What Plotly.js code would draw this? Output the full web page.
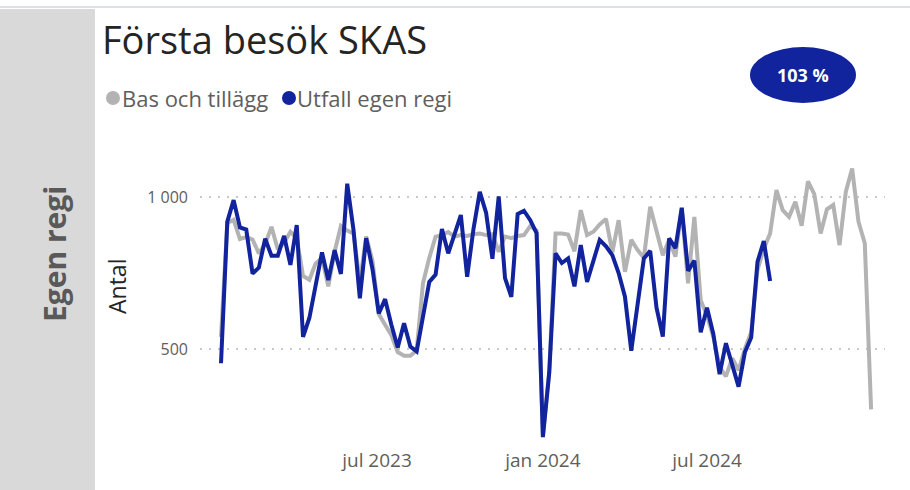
<!DOCTYPE html>
<html>
<head>
<meta charset="utf-8">
<script src="https://cdn.plot.ly/plotly-3.0.1.min.js"></script>
<style>
  html, body { margin: 0; padding: 0; background: #ffffff; }
  #chart { width: 910px; height: 490px; }
</style>
</head>
<body>
<div id="chart"></div>
<script>
// Weekly categories (Mondays), first week 2023-01-09, 104 weeks
const startWeek = '2023-01-09';
const weekCount = 104;

// Series: Bas och tillägg (plan)
const basOchTillagg = [
  540, 915, 925, 862, 868, 860, 815, 845, 902, 828,
  850, 886, 865, 740, 728, 782, 800, 706, 820, 905,
  890, 880, 720, 870, 790, 615, 580, 545, 490, 478,
  478, 495, 716, 800, 870, 875, 885, 870, 875, 872,
  878, 880, 875, 878, 820, 870, 865, 872, 875, 905,
  890, 215, 425, 880, 880, 877, 822, 957, 875, 886,
  910, 928, 818, 924, 754, 859, 826, 800, 968, 891,
  809, 859, 804, 963, 716, 935, 660, 610, 540, 440,
  410, 470, 430, 500, 555, 760, 830, 880, 1023, 957,
  935, 985, 906, 1052, 1010, 880, 960, 974, 842, 1018,
  1094, 919, 848, 301
];

// Series: Utfall egen regi (actual)
const utfallEgenRegi = [
  453, 919, 990, 900, 893, 748, 768, 863, 807, 807,
  872, 777, 908, 540, 602, 715, 818, 727, 825, 747,
  1044, 891, 667, 865, 763, 617, 664, 579, 505, 585,
  508, 492, 606, 721, 745, 895, 815, 875, 941, 738,
  895, 1017, 949, 797, 1002, 733, 672, 944, 955, 924,
  881, 210, 421, 815, 783, 798, 706, 842, 721, 790,
  859, 838, 809, 750, 672, 494, 655, 798, 823, 636,
  541, 864, 832, 965, 757, 791, 555, 636, 550, 417,
  519, 450, 376, 489, 538, 787, 855, 724
];

const seriesNames = ['Bas och tillägg', 'Utfall egen regi'];
const xTickVals = ['2023-07-01', '2024-01-01', '2024-07-01'];
const xTickText = ['jul 2023', 'jan 2024', 'jul 2024'];
const yTickVals = [500, 1000];
const yTickText = ['500', '1 000'];
const titleText = 'Första besök SKAS';
const badgeText = '103 %';
const sideText = 'Egen regi';
const yTitleText = 'Antal';

// build weekly date labels
const weeks = [];
{
  const d0 = new Date(startWeek + 'T00:00:00Z');
  for (let i = 0; i < weekCount; i++) {
    const d = new Date(d0.getTime() + i * 7 * 86400000);
    weeks.push(d.toISOString().slice(0, 10));
  }
}

const W = 910, H = 490;
const M = { l: 200, r: 25, t: 150, b: 45 };
const PW = W - M.l - M.r, PH = H - M.t - M.b;
const px = x => (x - M.l) / PW;
const py = y => (H - M.b - y) / PH;

const FONT = '"Segoe UI", "Open Sans", "Noto Sans", sans-serif';
const BLUE = '#12239E';
const GRAY = '#B3B3B3';

const traces = [
  {
    type: 'scatter', mode: 'lines', name: seriesNames[0],
    x: weeks, y: basOchTillagg,
    line: { color: GRAY, width: 4, shape: 'linear' },
    hoverinfo: 'skip'
  },
  {
    type: 'scatter', mode: 'lines', name: seriesNames[1],
    x: weeks.slice(0, utfallEgenRegi.length), y: utfallEgenRegi,
    line: { color: BLUE, width: 4, shape: 'linear' },
    hoverinfo: 'skip'
  }
];

const layout = {
  width: W, height: H,
  margin: M,
  paper_bgcolor: '#ffffff',
  plot_bgcolor: '#ffffff',
  showlegend: false,
  font: { family: FONT, color: '#605E5C', size: 16 },
  xaxis: {
    type: 'date',
    range: ['2022-12-16 17:00', '2025-01-14 10:00'],
    tickvals: xTickVals, ticktext: xTickText,
    showgrid: false, zeroline: false, showline: false, ticks: '',
    ticklabelstandoff: 2,
    tickfont: { family: FONT, size: 19, color: '#605E5C' },
    fixedrange: true
  },
  yaxis: {
    range: [184, 1155],
    tickvals: yTickVals, ticktext: yTickText,
    showgrid: true, gridcolor: '#C8C8C8', gridwidth: 1.5, griddash: '2px,7px',
    zeroline: false, showline: false, ticks: '',
    ticklabelstandoff: 11,
    tickfont: { family: FONT, size: 16, color: '#605E5C' },
    fixedrange: true
  },
  shapes: [
    { type: 'rect', xref: 'paper', yref: 'paper', x0: px(0), x1: px(95), y0: py(490), y1: py(9),
      fillcolor: '#D9D9D9', line: { width: 0 }, layer: 'below' },
    { type: 'line', xref: 'paper', yref: 'paper', x0: px(0), x1: px(910), y0: py(7), y1: py(7),
      line: { color: '#DDE1E6', width: 2 } },
    { type: 'circle', xref: 'paper', yref: 'paper', x0: px(106), x1: px(120), y0: py(105), y1: py(91),
      fillcolor: GRAY, line: { width: 0 } },
    { type: 'circle', xref: 'paper', yref: 'paper', x0: px(282), x1: px(296), y0: py(105), y1: py(91),
      fillcolor: BLUE, line: { width: 0 } },
    { type: 'circle', xref: 'paper', yref: 'paper', x0: px(750), x1: px(856), y0: py(103), y1: py(47),
      fillcolor: BLUE, line: { width: 0 } }
  ],
  annotations: [
    { xref: 'paper', yref: 'paper', x: px(100), y: py(39), xanchor: 'left', yanchor: 'middle',
      text: titleText, showarrow: false, font: { family: FONT, size: 38, color: '#252423' } },
    { xref: 'paper', yref: 'paper', x: px(120), y: py(98), xanchor: 'left', yanchor: 'middle',
      text: seriesNames[0], showarrow: false, font: { family: FONT, size: 22, color: '#605E5C' } },
    { xref: 'paper', yref: 'paper', x: px(295), y: py(98), xanchor: 'left', yanchor: 'middle',
      text: seriesNames[1], showarrow: false, font: { family: FONT, size: 22, color: '#605E5C' } },
    { xref: 'paper', yref: 'paper', x: px(803), y: py(75), xanchor: 'center', yanchor: 'middle',
      text: '<b>' + badgeText + '</b>', showarrow: false, font: { family: FONT, size: 18, color: '#ffffff' } },
    { xref: 'paper', yref: 'paper', x: px(54), y: py(254), xanchor: 'center', yanchor: 'middle',
      text: '<b>' + sideText + '</b>', textangle: -90, showarrow: false,
      font: { family: FONT, size: 30, color: '#595959' } },
    { xref: 'paper', yref: 'paper', x: px(117), y: py(287), xanchor: 'center', yanchor: 'middle',
      text: yTitleText, textangle: -90, showarrow: false,
      font: { family: FONT, size: 23, color: '#252423' } }
  ]
};

Plotly.newPlot('chart', traces, layout, { staticPlot: true, displayModeBar: false });
</script>
</body>
</html>
